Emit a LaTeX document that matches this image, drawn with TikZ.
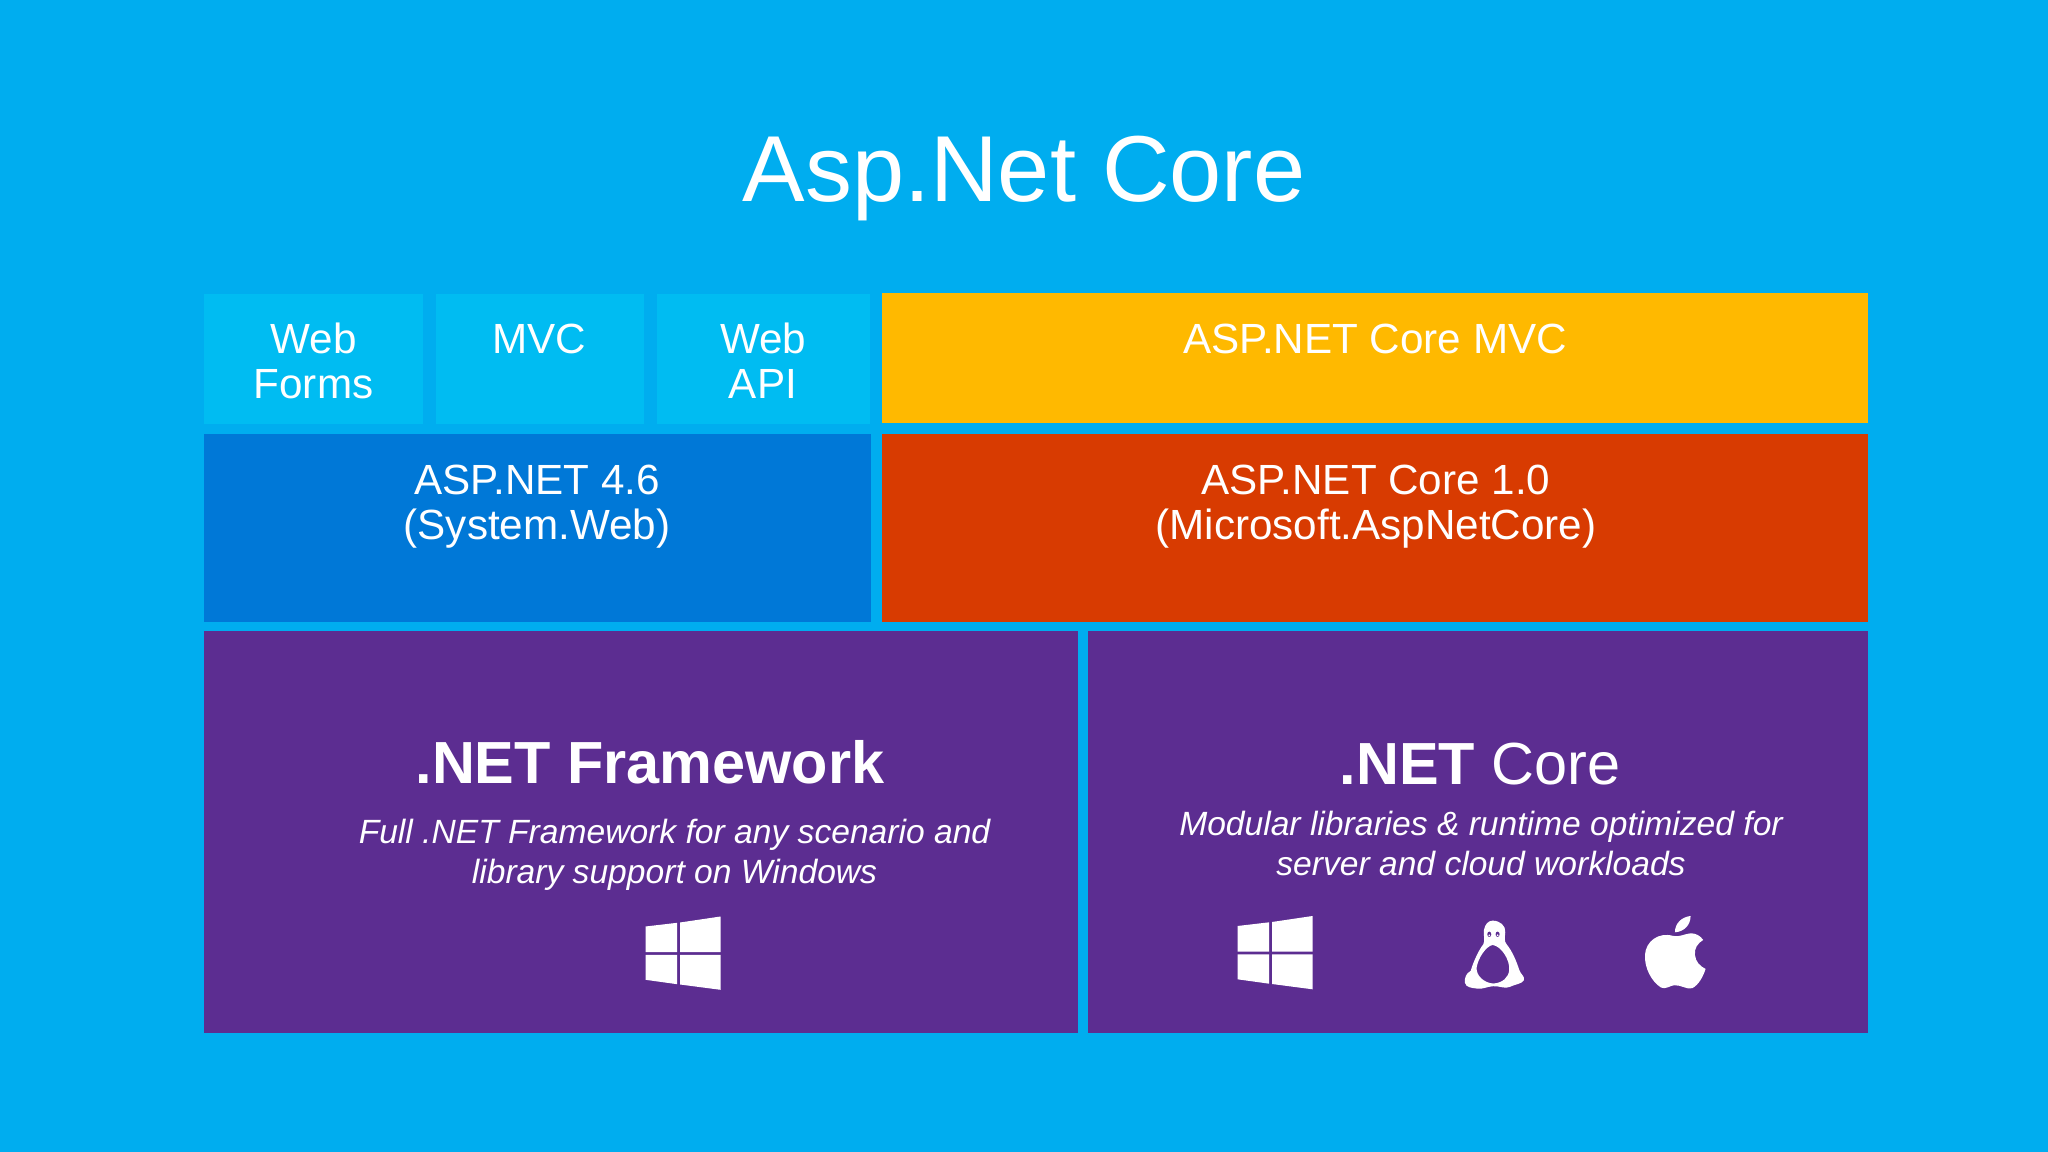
\documentclass[tikz,border=0pt]{standalone}
\usepackage{fontspec}
\setmainfont{Liberation Sans}
\definecolor{skybg}{HTML}{00ADEF}
\definecolor{lightbox}{HTML}{00BCF2}
\definecolor{bluebox}{HTML}{0078D7}
\definecolor{orangebox}{HTML}{FFB900}
\definecolor{redbox}{HTML}{D83B01}
\definecolor{purplebox}{HTML}{5C2D91}
\tikzset{
  lbl/.style={anchor=north,inner sep=0pt,outer sep=0pt,text=white,align=center,
    font=\fontsize{12}{12.8}\selectfont},
  title/.style={lbl,font=\fontsize{26.65}{30}\selectfont},
  head/.style={lbl,font=\fontsize{16.9}{20}\selectfont},
  sub/.style={lbl,font=\fontsize{9.56}{11.4}\selectfont\itshape},
}
\begin{document}
\begin{tikzpicture}[x=0.01cm,y=-0.01cm]
  % background, pixel coordinates with y going down
  \fill[skybg] (0,0) rectangle (2048,1152);
  \useasboundingbox (0,0) rectangle (2048,1152);

  % top row
  \fill[lightbox] (203.5,294) rectangle (423,424);
  \fill[lightbox] (436,294) rectangle (644,424);
  \fill[lightbox] (657,294) rectangle (870,424);
  \fill[orangebox] (882,293) rectangle (1868,423);

  % middle row
  \fill[bluebox] (203.5,434) rectangle (871,622);
  \fill[redbox] (882,434) rectangle (1868,622);

  % bottom row
  \fill[purplebox] (203.5,631) rectangle (1077.5,1033);
  \fill[purplebox] (1088,631) rectangle (1868,1033);

  % texts
  \node[title] (t) at (1024,136.5) {Asp.Net Core};
  \node[lbl] (wf) at (313.5,322.5) {Web\\Forms};
  \node[lbl] (mvc) at (539.5,324) {MVC};
  \node[lbl] (api) at (763,322.5) {Web\\API};
  \node[lbl] (cmvc) at (1375,324) {ASP.NET Core MVC};
  \node[lbl] (asp) at (537,465) {ASP.NET 4.6\\(System.Web)};
  \node[lbl] (core) at (1376,465) {ASP.NET Core 1.0\\(Microsoft.AspNetCore)};
  \node[head] (fw) at (650,740) {\bfseries .NET Framework};
  \node[sub] (fwsub) at (674.5,819) {Full .NET Framework for any scenario and\\library support on Windows};
  \node[head] (nc) at (1480,743) {\textbf{.NET} Core};
  \node[sub] (ncsub) at (1481,811) {Modular libraries \& runtime optimized for\\server and cloud workloads};

  % windows logos
  \foreach \wx/\wy in {645.5/916.5,1237.5/916} {
    \begin{scope}[shift={(\wx,\wy)}]
      \fill[white] (0,10) -- (31.7,6.3) -- (31.7,35.7) -- (0,35.7) -- cycle;
      \fill[white] (34.5,6) -- (75,0) -- (75,35.7) -- (34.5,35.7) -- cycle;
      \fill[white] (0,38.3) -- (31.7,38.3) -- (31.7,67.7) -- (0,63.3) -- cycle;
      \fill[white] (34.5,38.3) -- (75,38.3) -- (75,73.3) -- (34.5,68) -- cycle;
    \end{scope}
  }

  % penguin
  \begin{scope}[shift={(1450,905)},x=0.00333cm,y=-0.00333cm]
    \fill[white,even odd rule] (128,47) .. controls (150,47) and (168,62) .. (166,82)
      .. controls (165,98) and (162,108) .. (170,118)
      .. controls (188,140) and (200,170) .. (208,195)
      .. controls (212,208) and (226,215) .. (222,226)
      .. controls (215,238) and (195,238) .. (180,246)
      .. controls (165,253) and (150,243) .. (130,244)
      .. controls (110,245) and (100,254) .. (80,251)
      .. controls (65,249) and (48,248) .. (45,234)
      .. controls (43,220) and (48,205) .. (62,198)
      .. controls (68,178) and (83,140) .. (100,118)
      .. controls (106,108) and (100,90) .. (102,75)
      .. controls (105,58) and (115,47) .. (128,47) -- cycle
      (128,120) .. controls (155,124) and (180,165) .. (178,195)
      .. controls (176,218) and (158,234) .. (130,236)
      .. controls (102,234) and (78,212) .. (80,188)
      .. controls (84,160) and (108,124) .. (128,120) -- cycle;
    \fill[purplebox] (118,88) ellipse (6 and 8);
    \fill[purplebox] (143,88) ellipse (6 and 8);
    \fill[white] (118,91) circle (3);
    \fill[white] (143,91) circle (3);
  \end{scope}

  % apple
  \begin{scope}[shift={(1635,905)},x=0.00333cm,y=-0.00333cm]
    \fill[white] (120,82) .. controls (120,55) and (140,36) .. (167,33)
      .. controls (167,60) and (148,80) .. (120,82) -- cycle;
    \fill[white] (115,93) .. controls (135,97) and (150,86) .. (168,85)
      .. controls (182,85) and (196,92) .. (205,105)
      .. controls (188,115) and (178,130) .. (180,150)
      .. controls (182,170) and (195,184) .. (212,192)
      .. controls (206,212) and (192,240) .. (172,250)
      .. controls (155,255) and (140,240) .. (118,241)
      .. controls (105,242) and (92,255) .. (78,248)
      .. controls (50,230) and (28,190) .. (30,150)
      .. controls (32,110) and (70,80) .. (115,93) -- cycle;
  \end{scope}
\end{tikzpicture}
\end{document}
